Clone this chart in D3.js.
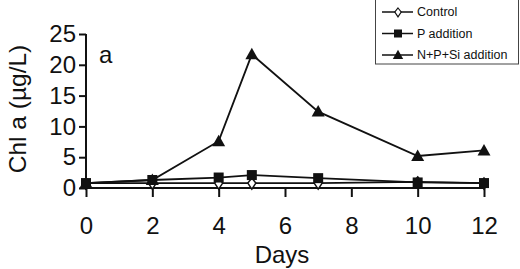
<!DOCTYPE html>
<html>
<head>
<meta charset="utf-8">
<script src="https://cdn.jsdelivr.net/npm/d3@7"></script>
<style>
  body { margin: 0; background: #fff; }
  svg text { font-family: Arial, "Liberation Sans", sans-serif; fill: #111; }
</style>
</head>
<body>
<svg id="chart" width="520" height="269"></svg>
<script>
// data
var days = [0, 2, 4, 5, 7, 10, 12];
var control = [0.8, 0.8, 0.8, 0.8, 0.8, 1.0, 0.8];
var pAdd = [0.8, 1.3, 1.7, 2.1, 1.6, 0.9, 0.8];
var npsiAdd = [0.8, 1.3, 7.6, 21.7, 12.4, 5.2, 6.1];
var seriesNames = ["Control", "P addition", "N+P+Si addition"];
var xTicks = [0, 2, 4, 6, 8, 10, 12];
var yTicks = [0, 5, 10, 15, 20, 25];

var svg = d3.select("#chart");
var margin = {top: 34, right: 36, bottom: 81, left: 86};
var width = 520 - margin.left - margin.right,
    height = 269 - margin.top - margin.bottom;

var g = svg.append("g").attr("transform", "translate(" + margin.left + "," + margin.top + ")");

var x = d3.scaleLinear().domain([0, 12]).range([0, width]);
var y = d3.scaleLinear().domain([0, 25]).range([height, 0]);

// axes
var xAxis = g.append("g")
  .attr("transform", "translate(0," + height + ")")
  .call(d3.axisBottom(x).tickValues(xTicks).tickSize(9).tickSizeOuter(0).tickPadding(20));
var yAxis = g.append("g")
  .call(d3.axisLeft(y).tickValues(yTicks).tickSize(7).tickSizeOuter(0).tickPadding(3));

[xAxis, yAxis].forEach(function(a) {
  a.select(".domain").attr("stroke", "#111").attr("stroke-width", 2);
  a.selectAll(".tick line").attr("stroke", "#111").attr("stroke-width", 2);
  a.selectAll("text").attr("font-size", "24px").attr("fill", "#111");
});
xAxis.select(".domain").attr("d", "M0,0H" + width);
yAxis.select(".domain").attr("d", "M0," + (height + 2) + "V0");

// labels
svg.append("text")
  .attr("x", 282).attr("y", 263)
  .attr("text-anchor", "middle")
  .attr("font-size", "24px")
  .text("Days");
svg.append("text")
  .attr("transform", "translate(26," + (margin.top + height / 2 - 2) + ") rotate(-90)")
  .attr("text-anchor", "middle")
  .attr("font-size", "24.5px")
  .text("Chl a (\u00b5g/L)");
svg.append("text")
  .attr("x", 99).attr("y", 63)
  .attr("font-size", "24px")
  .text("a");

var line = d3.line()
  .x(function(d, i) { return x(days[i]); })
  .y(function(d) { return y(d); });

var allSeries = [control, pAdd, npsiAdd];

allSeries.forEach(function(s) {
  g.append("path")
    .datum(s)
    .attr("fill", "none")
    .attr("stroke", "#111")
    .attr("stroke-width", 1.8)
    .attr("d", line);
});

function marker(sel, type) {
  if (type == 0) {
    sel.append("path")
      .attr("d", "M0,-5L4,0L0,6L-4,0Z")
      .attr("fill", "#fff").attr("stroke", "#111").attr("stroke-width", 1.5);
  } else if (type == 1) {
    sel.append("rect")
      .attr("x", -5).attr("y", -5).attr("width", 10).attr("height", 10)
      .attr("fill", "#111");
  } else {
    sel.append("path")
      .attr("d", "M0,-6.5L6.5,5L-6.5,5Z")
      .attr("fill", "#111");
  }
}

allSeries.forEach(function(s, k) {
  g.selectAll(".pt" + k)
    .data(s)
    .enter().append("g")
    .attr("class", "pt" + k)
    .attr("transform", function(d, i) { return "translate(" + x(days[i]) + "," + y(d) + ")"; })
    .each(function() { marker(d3.select(this), k); });
});

// legend
var legend = svg.append("g").attr("transform", "translate(375,0)");
legend.append("rect")
  .attr("x", 0.5).attr("y", -1).attr("width", 143).attr("height", 65)
  .attr("fill", "#fff").attr("stroke", "#444").attr("stroke-width", 1);
var item = legend.selectAll(".legend")
  .data(seriesNames)
  .enter().append("g")
  .attr("class", "legend")
  .attr("transform", function(d, i) { return "translate(0," + (12 + i * 21.5) + ")"; });
item.append("line")
  .attr("x1", 7).attr("x2", 38)
  .attr("stroke", "#111").attr("stroke-width", 1.5);
item.each(function(d, i) {
  var m = d3.select(this).append("g").attr("transform", "translate(23,0) scale(0.8)");
  marker(m, i);
});
item.append("text")
  .attr("x", 42).attr("y", 0)
  .attr("dy", "0.35em")
  .attr("font-size", "12.5px")
  .text(function(d) { return d; });
</script>
</body>
</html>
